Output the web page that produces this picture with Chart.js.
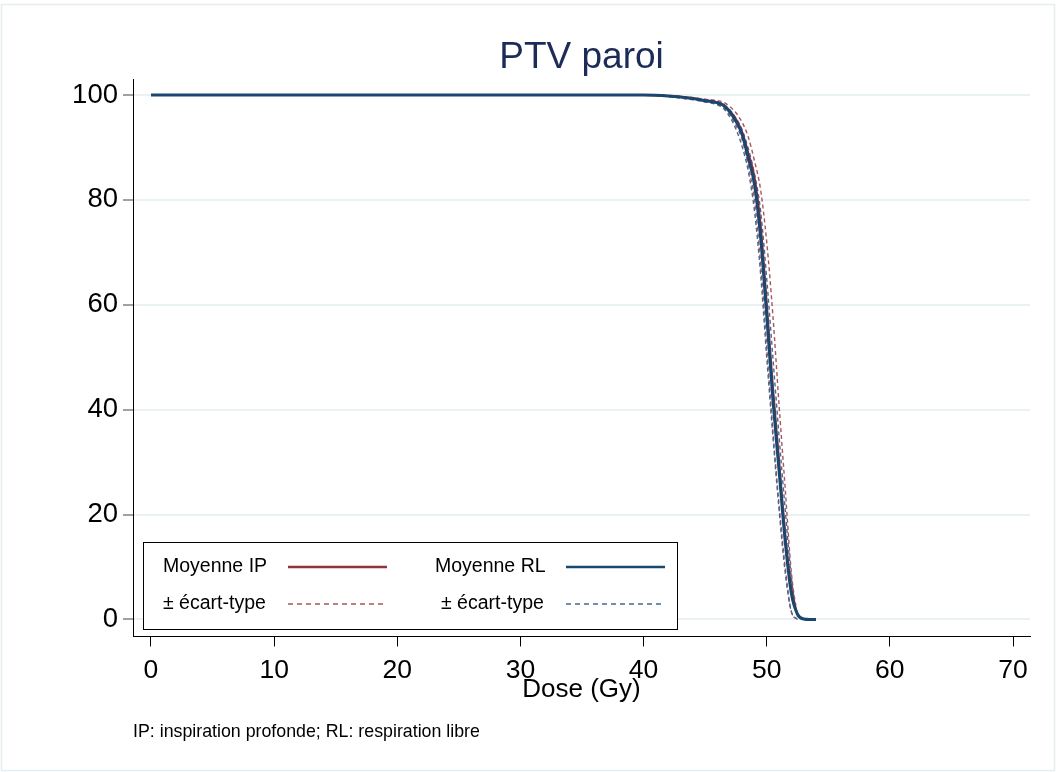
<!DOCTYPE html>
<html>
<head>
<meta charset="utf-8">
<title>PTV paroi</title>
<script src="https://cdn.jsdelivr.net/npm/chart.js@4.4.1/dist/chart.umd.min.js"></script>
<style>
    html, body { margin: 0; padding: 0; background: #fff; }
    #wrap { width: 1056px; height: 772px; position: relative; }
</style>
</head>
<body>
<div id="wrap"><canvas id="dvh" width="1056" height="772"></canvas></div>
<script>
// Dose points (Gy) shared by every curve
const doses = [0, 10, 20, 30, 40, 42, 44, 45, 46, 46.5, 47, 47.5, 48, 48.5, 49, 49.5, 50, 50.5, 51, 51.5, 52, 52.5, 53, 53.5, 54];

// Volume (%)
const meanRL  = [100, 100, 100, 100, 100, 99.8, 99.3, 98.9, 98.5, 98.0, 96.8, 95.0, 92.5, 88.0, 83.0, 73.0, 58.0, 42.0, 28.5, 15.0, 5.0, 1.0, 0.1, 0, 0];
const meanIP  = [100, 100, 100, 100, 100, 99.8, 99.4, 99.0, 98.6, 98.1, 97.0, 95.4, 93.0, 89.0, 84.5, 75.5, 60.5, 44.5, 30.5, 16.5, 6.0, 1.0, 0, null, null];
const rlPlus  = [100, 100, 100, 100, 100, 99.8, 99.4, 99.0, 98.7, 98.2, 97.2, 95.6, 93.4, 89.8, 85.0, 78.0, 65.0, 50.0, 35.0, 21.0, 8.0, 1.0, 0, null, null];
const rlMinus = [100, 100, 100, 100, 100, 99.7, 99.1, 98.7, 98.1, 97.4, 95.8, 93.5, 90.2, 85.5, 78.0, 66.0, 50.0, 35.0, 21.0, 9.0, 1.5, 0, null, null, null];
const ipPlus  = [100, 100, 100, 100, 100, 99.9, 99.5, 99.2, 98.9, 98.6, 97.8, 96.6, 94.8, 92.0, 87.5, 82.0, 72.0, 58.0, 41.0, 25.0, 9.0, 0.5, null, null, null];
const ipMinus = [100, 100, 100, 100, 100, 99.7, 99.1, 98.7, 98.2, 97.6, 96.2, 94.2, 91.5, 86.5, 80.0, 68.0, 52.0, 36.0, 22.0, 10.0, 1.5, 0, null, null, null];

const xTicks = [0, 10, 20, 30, 40, 50, 60, 70];
const yTicks = [0, 20, 40, 60, 80, 100];

const titleText = 'PTV paroi';
const xTitle = 'Dose (Gy)';
const noteText = 'IP: inspiration profonde; RL: respiration libre';

const RED = '#90353b';
const NAVY = '#1a476f';
const RED_DASH = '#a9545b';
const NAVY_DASH = '#45698f';
const FONT = '"Liberation Sans", Arial, Helvetica, sans-serif';

const toPoints = (vals) => doses.map((d, i) => ({ x: d, y: vals[i] }));

const lineDs = (label, vals, color, width, dash) => ({
    label: label,
    data: toPoints(vals),
    borderColor: color,
    backgroundColor: color,
    borderWidth: width,
    borderDash: dash || [],
    pointRadius: 0,
    fill: false,
    spanGaps: false,
    cubicInterpolationMode: 'monotone'
});

// index 0 is drawn on top
const datasets = [
    lineDs('Moyenne RL', meanRL, NAVY, 3),
    lineDs('Moyenne IP', meanIP, RED, 2),
    lineDs('± écart-type RL+', rlPlus, NAVY_DASH, 1.4, [4, 3]),
    lineDs('± écart-type RL-', rlMinus, NAVY_DASH, 1.4, [4, 3]),
    lineDs('± écart-type IP+', ipPlus, RED_DASH, 1.4, [4, 3]),
    lineDs('± écart-type IP-', ipMinus, RED_DASH, 1.4, [4, 3])
];

// legend entries: text, colour, dash, width
const legendRows = [
    [['Moyenne IP', RED, [], 2.5], ['Moyenne RL', NAVY, [], 2.5]],
    [['± écart-type', RED_DASH, [5, 4], 1.3], ['± écart-type', NAVY_DASH, [5, 4], 1.3]]
];

const framePlugin = {
    id: 'frame',
    beforeDraw(chart) {
        const ctx = chart.ctx;
        ctx.save();
        ctx.fillStyle = '#ffffff';
        ctx.fillRect(0, 0, chart.width, chart.height);
        ctx.strokeStyle = '#e6edf0';
        ctx.lineWidth = 1.5;
        ctx.strokeRect(1.5, 4.5, 1053, 766);
        ctx.restore();
    }
};

const legendPlugin = {
    id: 'boxLegend',
    afterDatasetsDraw(chart) {
        const ctx = chart.ctx;
        const box = { x: 143.5, y: 542.5, w: 534, h: 87 };
        const colText = [163, 435];
        const colLine = [[288, 387], [566, 665]];
        const rowY = [567, 604];
        ctx.save();
        ctx.fillStyle = '#ffffff';
        ctx.fillRect(box.x, box.y, box.w, box.h);
        ctx.strokeStyle = '#000';
        ctx.lineWidth = 1;
        ctx.strokeRect(box.x, box.y, box.w, box.h);
        ctx.font = '19.5px ' + FONT;
        ctx.textBaseline = 'middle';
        ctx.textAlign = 'left';
        legendRows.forEach((row, r) => {
            row.forEach((item, c) => {
                const [text, color, dash, width] = item;
                ctx.fillStyle = '#000';
                ctx.fillText(text, colText[c] + (r === 1 ? 6 * c : 0), rowY[r]);
                ctx.beginPath();
                ctx.setLineDash(dash);
                ctx.strokeStyle = color;
                ctx.lineWidth = width;
                ctx.moveTo(colLine[c][0], rowY[r]);
                ctx.lineTo(colLine[c][1], rowY[r]);
                ctx.stroke();
            });
        });
        ctx.restore();
    }
};

new Chart(document.getElementById('dvh'), {
    type: 'line',
    data: { datasets: datasets },
    plugins: [framePlugin, legendPlugin],
    options: {
        responsive: false,
        animation: false,
        layout: { padding: { left: 0, right: 26, top: 0, bottom: 28.8 } },
        plugins: {
            legend: { display: false },
            tooltip: { enabled: false },
            title: {
                display: true,
                text: titleText,
                color: '#1c2b57',
                fullSize: false,
                font: { family: FONT, size: 37, weight: 'normal' },
                padding: { top: 36, bottom: 0.6 - 3.6 + 1.6 }
            },
            subtitle: {
                display: true,
                text: noteText,
                position: 'bottom',
                align: 'start',
                fullSize: false,
                color: '#000',
                font: { family: FONT, size: 17.8, weight: 'normal' },
                padding: { top: 16.4, bottom: 0 }
            }
        },
        scales: {
            x: {
                type: 'linear',
                min: -1.46,
                max: 71.38,
                afterBuildTicks: (scale) => { scale.ticks = xTicks.map(v => ({ value: v })); },
                afterFit: (scale) => { scale.height = 69; },
                border: { display: true, color: '#000', width: 1 },
                grid: { drawOnChartArea: false, drawTicks: true, tickLength: 10, tickColor: '#000', tickWidth: 1 },
                ticks: { color: '#000', padding: 8, maxRotation: 0, font: { family: FONT, size: 26.5 } },
                title: {
                    display: true,
                    text: xTitle,
                    color: '#000',
                    font: { family: FONT, size: 26 },
                    padding: { top: 0, bottom: 0 }
                }
            },
            y: {
                type: 'linear',
                min: -3.23,
                max: 103.04,
                afterBuildTicks: (scale) => { scale.ticks = yTicks.map(v => ({ value: v })); },
                afterFit: (scale) => { scale.width = 133; },
                border: { display: true, color: '#000', width: 1 },
                grid: { color: '#eaf1f3', lineWidth: 2, drawTicks: true, tickLength: 10, tickColor: '#444', tickWidth: 1 },
                ticks: { color: '#000', padding: 5, font: { family: FONT, size: 27.5 } }
            }
        }
    }
});
</script>
</body>
</html>
